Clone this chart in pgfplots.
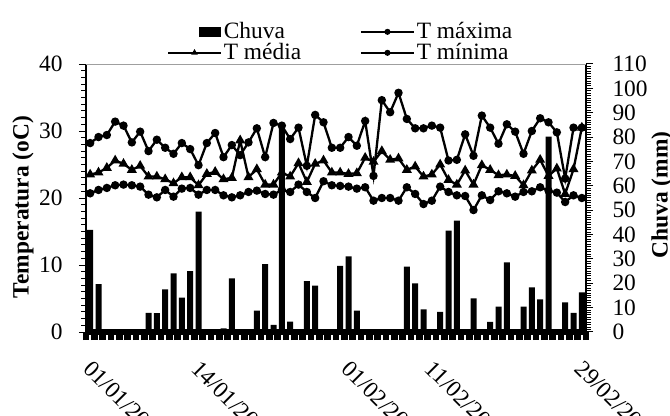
\documentclass[border=0pt]{standalone}
\usepackage{fontspec}
\setmainfont{Liberation Serif}
\usepackage{pgfplots}
\pgfplotsset{compat=1.18}
\usepackage{pgfplotstable}

% dia, chuva (mm), T max, T media, T min (oC)
\pgfplotstableread{
d chuva tmax tmed tmin
1 41.9 28.2 23.5 20.7
2 19.7 29.1 23.8 21.2
3 0 29.4 24.5 21.5
4 0 31.4 25.6 21.9
5 0 30.8 25.1 22.0
6 0 28.3 24.2 21.9
7 0 29.9 24.8 21.7
8 7.9 27.0 23.2 20.5
9 7.7 28.7 23.2 20.1
10 17.5 27.5 22.8 21.2
11 24.1 26.6 22.2 20.2
12 14.1 28.2 23.1 21.4
13 25.0 27.3 23.1 21.5
14 49.4 24.9 21.9 20.5
15 0 28.2 23.6 21.2
16 0 29.7 23.9 21.2
17 1.5 26.1 22.8 20.4
18 22.0 27.9 23.0 20.1
19 0.8 26.4 28.6 20.4
20 0 28.3 23.1 20.9
21 8.8 30.4 24.3 21.1
22 27.9 26.1 22.0 20.6
23 2.9 31.2 22.0 20.5
24 85.0 30.8 23.8 21.2
25 4.3 28.8 23.2 20.9
26 0 30.5 25.2 22.0
27 20.9 24.8 22.4 20.9
28 19.0 32.4 25.1 20.0
29 0 31.3 25.6 22.5
30 0 27.5 23.8 21.9
31 27.1 27.5 23.8 21.8
32 31.0 29.1 23.6 21.7
33 8.8 27.8 23.7 21.4
34 0 31.5 26.0 21.6
35 0 23.3 25.4 19.6
36 0 34.6 27.0 20.0
37 0 32.8 25.7 20.0
38 0 35.7 25.9 19.6
39 26.8 31.8 24.2 21.6
40 20.0 30.4 24.7 20.6
41 9.3 30.4 23.2 19.1
42 0 30.8 23.5 19.6
43 8.3 30.5 25.0 21.7
44 41.6 25.6 22.7 20.9
45 45.7 25.7 22.0 20.4
46 1.0 29.5 24.1 20.3
47 13.8 26.3 22.0 18.2
48 0 32.3 24.9 20.4
49 4.2 30.5 24.2 19.7
50 10.4 28.1 23.4 21.0
51 28.6 31.0 23.5 20.7
52 0.8 29.9 23.3 20.2
53 10.4 26.6 21.9 20.9
54 18.3 30.0 24.1 21.0
55 13.4 31.9 25.7 21.6
56 80.2 31.3 23.3 21.1
57 0 29.8 24.4 20.8
58 12.2 22.9 20.6 19.4
59 7.9 30.5 24.3 20.4
60 16.3 30.5 30.5 20.0
}\dados

\begin{document}
\begin{tikzpicture}[font=\fontsize{23.5}{28}\selectfont]
\pgfplotsset{
  base/.style={
    width=500bp, height=268bp, scale only axis,
    at={(86bp,84bp)}, anchor=south west,
    xmin=0.5, xmax=60.5,
    /pgf/number format/assume math mode=true,
    tick align=outside,
    major tick length=7bp, minor tick length=4.5bp,
    tick style={black, line width=1bp},
    minor y tick num=9,
  },
  linha/.style={black, line width=2.3bp, mark options={solid}},
}
% chuva no eixo da direita
\begin{axis}[base,
  ymin=0, ymax=110, ytick={0,10,...,110},
  axis x line=none, axis y line*=right,
  y axis line style={line width=1.2bp, -},
  yticklabel style={xshift=16bp},
  ylabel={\textbf{Chuva (mm)}},
  ylabel style={at={(axis description cs:1.152,0.511)}, anchor=center},
]
\addplot[ybar, bar width=6bp, fill=black, draw=none] table[x=d, y=chuva]{\dados};
\end{axis}
% temperaturas no eixo da esquerda
\begin{axis}[base,
  ymin=0, ymax=40, ytick={0,10,...,40},
  axis x line*=bottom, axis y line*=left,
  y axis line style={line width=1.2bp, -},
  x axis line style={line width=5bp, -},
  xtick={1,14,32,42,60},
  xticklabels={01/01/2012,14/01/2012,01/02/2012,11/02/2012,29/02/2012},
  major x tick style={draw=none},
  minor xtick={0.5,1.5,...,60.5},
  minor x tick style={line width=6.5bp, /pgfplots/minor tick length=8bp},
  xticklabel style={xshift=3bp, yshift=-20bp, rotate=-45, anchor=north west, inner sep=0pt},
  yticklabel style={xshift=-13bp},
  ylabel={\textbf{Temperatura (oC)}},
  ylabel style={at={(axis description cs:-0.126,0.466)}, anchor=center},
  legend columns=2, legend cell align=left,
  legend style={at={(axis description cs:0.162,1.16)}, anchor=north west,
    draw=none, fill=none, inner sep=0pt, row sep=0bp,
    nodes={inner sep=0.5bp, text height=17bp, text depth=3bp},
    /tikz/every odd column/.append style={column sep=1.5bp},
    /tikz/every even column/.append style={column sep=58.5bp}},
  legend image code/.code={
    \draw[mark repeat=2, mark phase=2, #1, line width=1.6bp, mark size=2.2bp]
      plot coordinates {(0bp,0bp) (26.5bp,0bp) (53bp,0bp)};},
]
\draw[gray!75, line width=1.5bp] (rel axis cs:0,1) -- (rel axis cs:1,1);
\addlegendimage{legend image code/.code={
    \path[draw=none, fill=none] (0bp,0bp) -- (53bp,0bp);
    \fill[black, draw=none] (31bp,-5bp) rectangle (53bp,5bp);}}
\addlegendentry{Chuva}
\addplot[linha, mark=*, mark size=3bp] table[x=d, y=tmax]{\dados};
\addlegendentry{T máxima}
\addplot[linha, mark=triangle*, mark size=3.5bp] table[x=d, y=tmed]{\dados};
\addlegendentry{T média}
\addplot[linha, mark=*, mark size=3bp] table[x=d, y=tmin]{\dados};
\addlegendentry{T mínima}
\end{axis}
\pgfresetboundingbox
\path[use as bounding box] (0bp,0bp) rectangle (670bp,416bp);
\end{tikzpicture}
\end{document}
